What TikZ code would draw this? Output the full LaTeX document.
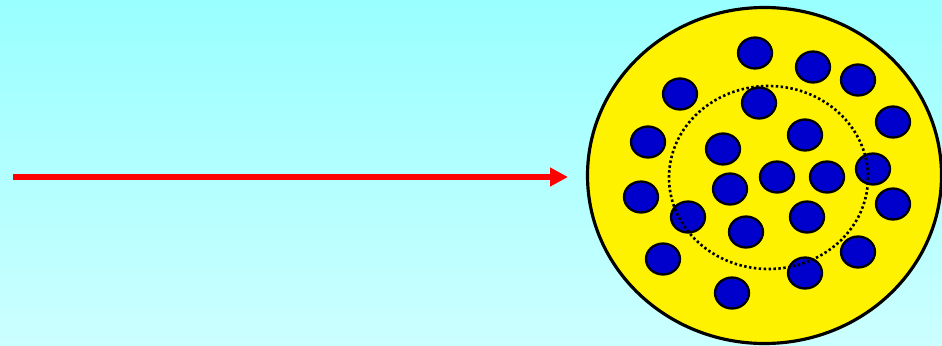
\documentclass[tikz,border=0pt]{standalone}
\usepackage{tikz}
\usetikzlibrary{arrows.meta,shapes.geometric}

\definecolor{skytop}{RGB}{153,255,255}
\definecolor{skybot}{RGB}{204,255,255}
\definecolor{dotblue}{RGB}{0,0,204}

\begin{document}
\begin{tikzpicture}[x=0.02cm, y=-0.02cm,
  dot/.style={ellipse, draw=black, line width=1.3pt, fill=dotblue,
    minimum width=0.68cm, minimum height=0.62cm, inner sep=0pt},
  beam/.style={draw=red, line width=3.4pt, -{Triangle[length=0.36cm,width=0.36cm]}}]

% ============================
% Background
% ============================
\useasboundingbox (0,0) rectangle (942,345);
\fill[top color=skytop, bottom color=skybot] (0,0) rectangle (942,345);
\clip (0,0) rectangle (942,345);

% ============================
% Incoming beam
% ============================
\coordinate (aS) at (13,177);
\coordinate (aE) at (568,177);
\draw[beam] (aS) -- (aE);

% ============================
% Target disc
% ============================
\coordinate (c) at (764.5,175.5);
\filldraw[fill=yellow, draw=black, line width=1.8pt] (c) ellipse [x radius=177, y radius=168];

% ============================
% Dots
% ============================
\foreach \x/\y [count=\i] in {755/53, 813/67, 858/80, 680/94, 759/103, 893/122,
  648/142, 805/135, 723/149, 777/177, 827/177, 873/169, 730/189, 641/197,
  893/204, 688/217, 807/217, 746/232, 858/252, 663/259, 805/273, 732/293}{
  \node[dot] (d\i) at (\x,\y) {};
}

% ============================
% Inner dotted ring
% ============================
\coordinate (r) at (768.5,177.5);
\draw[line width=1.5pt, dash pattern=on 1.4pt off 1.4pt] (r) ellipse [x radius=99.5, y radius=91.5];

\end{tikzpicture}
\end{document}
